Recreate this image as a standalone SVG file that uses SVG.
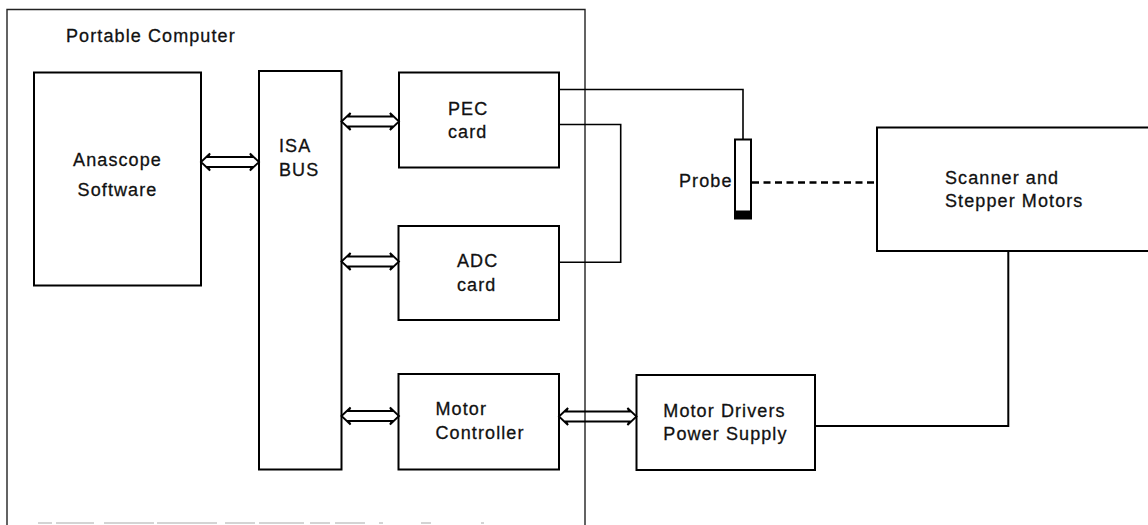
<svg xmlns="http://www.w3.org/2000/svg" width="1148" height="525" viewBox="0 0 1148 525">
<style>
  .box { fill: none; stroke: #000; stroke-width: 2; }
  .frame { fill: none; stroke: #222; stroke-width: 1.4; }
  .wire { fill: none; stroke: #000; stroke-width: 1.6; }
  .arrow { fill: none; stroke: #000; stroke-width: 1.8; stroke-linejoin: miter; }
  .dash { fill: none; stroke: #000; stroke-width: 2.4; stroke-dasharray: 7 4.5; }
  text { font-family: "Liberation Sans", Arial, sans-serif; font-size: 18px; letter-spacing: 1.1px; fill: #111; stroke: #111; stroke-width: 0.3px; }
</style>
<rect width="1148" height="525" fill="#fff"/>

<g id="portable-computer">
  <path class="frame" d="M7,525 V9.5 H585 V525"/>
  <path d="M38,523 H500" stroke="#aaa" stroke-width="1.2" stroke-dasharray="14 4 38 10 50 3 60 8 30 4 45 6 20 5 30"/>
  <text x="66" y="41.5">Portable Computer</text>
</g>

<g id="anascope-software">
  <rect class="box" x="34" y="72.5" width="167" height="213"/>
  <text x="117.5" y="165.5" text-anchor="middle">Anascope</text>
  <text x="117.5" y="196" text-anchor="middle">Software</text>
</g>

<g id="isa-bus">
  <rect class="box" x="259" y="71" width="82.5" height="398.5"/>
  <text x="279" y="151.5">ISA</text>
  <text x="279" y="175.5">BUS</text>
</g>

<g id="pec-card">
  <rect class="box" x="399" y="72.5" width="160" height="95"/>
  <text x="448" y="115">PEC</text>
  <text x="448" y="138.3">card</text>
</g>

<g id="adc-card">
  <rect class="box" x="398.5" y="226" width="160.5" height="94"/>
  <text x="457" y="266.7">ADC</text>
  <text x="457" y="290.7">card</text>
</g>

<g id="motor-controller">
  <rect class="box" x="398.5" y="374" width="160.5" height="95.5"/>
  <text x="435.5" y="415">Motor</text>
  <text x="435.5" y="439.3">Controller</text>
</g>

<g id="probe">
  <rect x="735" y="139.5" width="16" height="79" fill="#fff" stroke="#000" stroke-width="2"/>
  <rect x="735" y="210.5" width="16" height="8" fill="#000"/>
  <text x="679" y="187">Probe</text>
</g>

<g id="scanner">
  <rect class="box" x="877" y="127.5" width="290" height="123.5"/>
  <text x="945" y="184">Scanner and</text>
  <text x="945" y="207">Stepper Motors</text>
</g>

<g id="motor-drivers">
  <rect class="box" x="636.5" y="375" width="178.5" height="95"/>
  <text x="663.3" y="416.7">Motor Drivers</text>
  <text x="663.3" y="440">Power Supply</text>
</g>

<g id="connectors">
  <polygon class="arrow" points="201,162 210,153.5 208,157 252,157 250,153.5 259,162 250,170.5 252,167 208,167 210,170.5"/>
  <polygon class="arrow" points="341.5,121.5 350.5,113 348.5,116.5 392,116.5 390,113 399,121.5 390,130 392,126.5 348.5,126.5 350.5,130"/>
  <polygon class="arrow" points="341.5,261.5 350.5,253 348.5,256.5 392,256.5 390,253 399,261.5 390,270 392,266.5 348.5,266.5 350.5,270"/>
  <polygon class="arrow" points="341.5,416 350.5,407.5 348.5,411 392,411 390,407.5 399,416 390,424.5 392,421 348.5,421 350.5,424.5"/>
  <polygon class="arrow" points="559,416.5 568,408 566,411.5 629.5,411.5 627.5,408 636.5,416.5 627.5,425 629.5,421.5 566,421.5 568,425"/>
  <path class="wire" d="M559,89.5 H743 V139.5"/>
  <path class="wire" d="M559,124.5 H620.7 V262.3 H559"/>
  <path class="dash" d="M752,182.5 H877"/>
  <path class="box" d="M1008.3,251 V426 H815"/>
</g>
</svg>
